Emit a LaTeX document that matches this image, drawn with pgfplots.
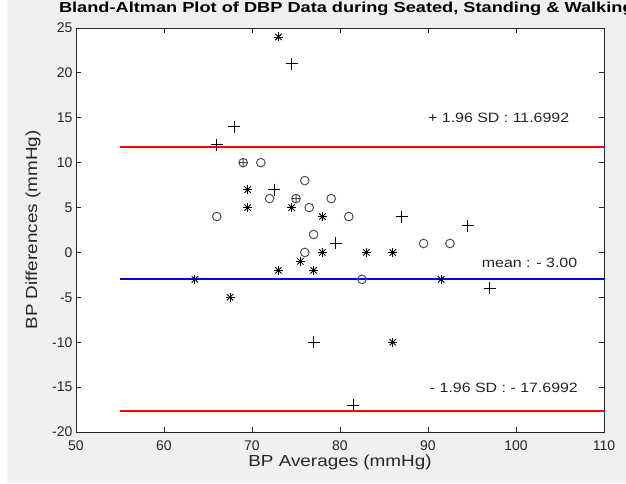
\documentclass[border=0pt]{standalone}
\usepackage{pgfplots}
\pgfplotsset{compat=1.18}
\usepackage{fontspec}
\setmainfont{Liberation Sans}[FakeStretch=1.18]
\newfontfamily\tickfont{Liberation Sans}
\newfontfamily\titlefont{Liberation Sans}[FakeStretch=1.255]
\definecolor{figbg}{RGB}{240,240,240}
\definecolor{axc}{RGB}{38,38,38}
\definecolor{circc}{RGB}{80,80,80}
\begin{document}
\begin{tikzpicture}[x=1pt,y=1pt]
\fill[figbg] (0,0) rectangle (626,483);
\fill[white] (0,0) rectangle (7,483);
\useasboundingbox (0,0) rectangle (626,483);
\begin{axis}[
  at={(76pt,51pt)}, anchor=south west,
  scale only axis, width=528pt, height=404pt,
  xmin=50, xmax=110, ymin=-20, ymax=25,
  xtick={50,60,...,110}, ytick={-20,-15,...,25},
  tick align=inside, major tick length=5pt,
  axis background/.style={fill=white},
  axis line style={axc, line width=0.8pt},
  every tick/.style={axc, line width=0.8pt},
  ticklabel style={font=\tickfont\fontsize{14}{16}\selectfont, text=axc},
  xticklabel style={yshift=-5pt},
  /pgf/number format/assume math mode=true,
  every axis x label/.style={at={(axis description cs:0.5,-0.0743)}, anchor=center},
  every axis y label/.style={at={(axis description cs:-0.0814,0.5)}, rotate=90, anchor=center},
  every axis title/.style={at={(axis description cs:0.512,1.0380)}, anchor=base},
  label style={font=\fontsize{16}{18}\selectfont, text=axc},
  title style={font=\titlefont\bfseries\fontsize{14.5}{16}\selectfont, text=black},
  xlabel={BP Averages (mmHg)},
  ylabel={BP Differences (mmHg)},
  title={Bland-Altman Plot of DBP Data during Seated, Standing \& Walking},
  clip=false,
]
\addplot[red, line width=2pt] coordinates {(55,11.6992) (110,11.6992)};
\addplot[red, line width=2pt] coordinates {(55,-17.6992) (110,-17.6992)};
\addplot[blue, line width=2pt] coordinates {(55,-3) (110,-3)};
\pgfplotstableread{
x y
73 24
69.5 7
69.5 5
74.5 5
78 4
63.5 -3
67.5 -5
73 -2
75.5 -1
77 -2
78 0
83 0
86 0
91.5 -3
86 -10
}\stars
\pgfplotstableread{
x y
74.5 21
68 14
66 12
72.5 7
79.5 1
77 -10
87 4
94.5 3
97 -4
81.5 -17
}\pluses
\pgfplotstableread{
x y
71 10
66 4
72 6
76 8
76.5 5
79 6
81 4
77 2
76 0
82.5 -3
89.5 1
92.5 1
}\circs
\pgfplotstableread{
x y
69 10
75 6
}\oplusses
\addplot[only marks, mark=+, mark size=4.5pt, black, mark options={line width=0.9pt}] table {\stars};
\addplot[only marks, mark=x, mark size=4.5pt, black, mark options={line width=0.9pt}] table {\stars};
\addplot[only marks, mark=+, mark size=6pt, black, mark options={line width=0.9pt}] table {\pluses};
\addplot[only marks, mark=o, mark size=4.3pt, circc, mark options={line width=1pt}] table {\circs};
\addplot[only marks, mark=oplus, mark size=4.3pt, circc, mark options={line width=1pt}] table {\oplusses};
\node[anchor=west, inner sep=0pt, font=\fontsize{13.5}{15}\selectfont, text=axc] at (axis cs:90,15) {+ 1.96 SD : 11.6992};
\node[anchor=west, inner sep=0pt, font=\fontsize{13.5}{15}\selectfont, text=axc] at (axis cs:96.1,-1.2) {mean : - 3.00};
\node[anchor=west, inner sep=0pt, font=\fontsize{13.5}{15}\selectfont, text=axc] at (axis cs:90.2,-15.1) {- 1.96 SD : - 17.6992};
\end{axis}
\end{tikzpicture}
\end{document}
